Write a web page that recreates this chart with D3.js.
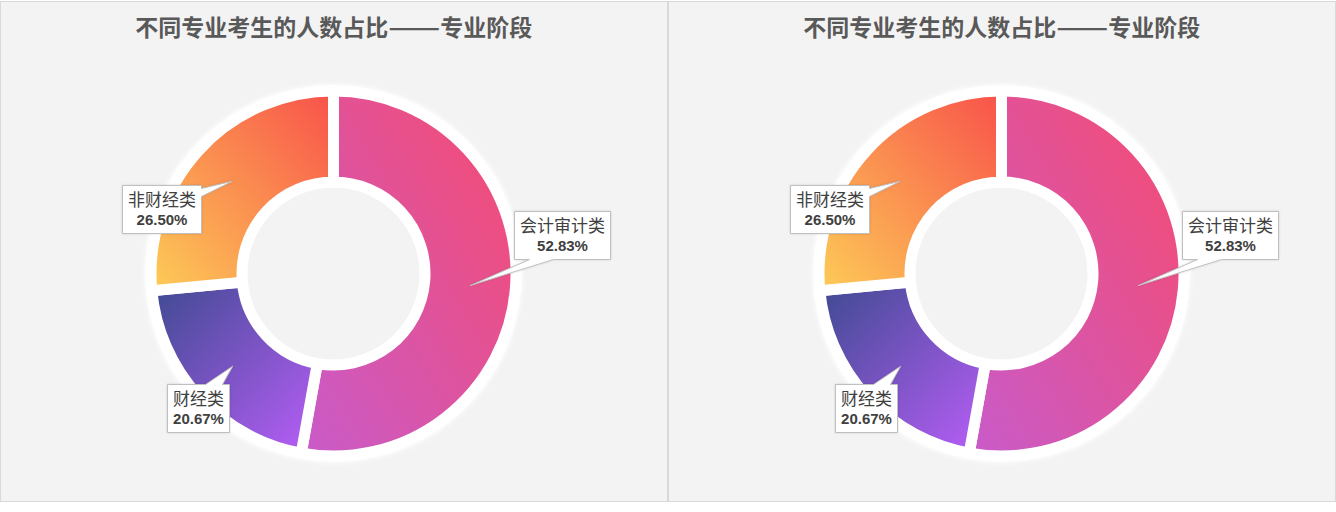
<!DOCTYPE html>
<html><head><meta charset="utf-8">
<script src="https://cdn.jsdelivr.net/npm/d3@7"></script>
<style>body{margin:0;background:#fff;} svg{display:block}</style>
</head><body><svg id="c" width="1336" height="512"></svg>
<script>
// ---- data ----
const titleParts = ["不同专业考生的人数占比", "——", "专业阶段"];
const categories = ["会计审计类", "财经类", "非财经类"];
const values = [52.83, 20.67, 26.50];
const panelIndex = [0, 1];

// ---- styles / layout ----
const gradFrom = ["#f74b6e", "#3d4a90", "#fdcc57"];
const gradTo   = ["#c85bca", "#b95ef8", "#f8514a"];
const gradDir  = [[1,0,0,1],[0,0,1,1],[0,1,1,0]]; // x1,y1,x2,y2
const labelOffset = [[92,-51],[-35,42],[-71,28]];   // box centre relative to slice centroid
const wedgeSpec = [["bottom",15,39],["top",38,55],["right",3,11]];

const panelW = 667.5, cy = 273.5;
const rOuter = 182.5, rInner = 91.5;

const svg = d3.select("#c");
const defs = svg.append("defs");
const blur = defs.append("filter").attr("id","glow").attr("x","-20%").attr("y","-20%").attr("width","140%").attr("height","140%");
blur.append("feGaussianBlur").attr("stdDeviation",2);
const sh = defs.append("filter").attr("id","shadow").attr("x","-20%").attr("y","-20%").attr("width","140%").attr("height","140%");
sh.append("feDropShadow").attr("dx",0).attr("dy",0).attr("stdDeviation",1).attr("flood-color","#000").attr("flood-opacity",0.15);

categories.forEach((c,i)=>{
  const g = defs.append("linearGradient").attr("id","g"+i)
    .attr("x1",gradDir[i][0]).attr("y1",gradDir[i][1]).attr("x2",gradDir[i][2]).attr("y2",gradDir[i][3]);
  g.append("stop").attr("offset","0%").attr("stop-color",gradFrom[i]);
  g.append("stop").attr("offset","100%").attr("stop-color",gradTo[i]);
});

const pie = d3.pie().sort(null).value(d=>d.v);
const data = pie(categories.map((c,i)=>({c, v: values[i], i})));
const arc = d3.arc().innerRadius(rInner).outerRadius(rOuter);

const cjk = "'Noto Sans CJK SC','Microsoft YaHei',sans-serif";
const latin = "'Liberation Sans',Arial,sans-serif";

panelIndex.forEach(p=>{
  const x0 = p * 668;
  const P = svg.append("g").attr("transform",`translate(${x0},0)`);
  P.append("rect").attr("x",0.5).attr("y",1.5).attr("width",panelW-0.5).attr("height",500)
    .attr("fill","#f3f3f3").attr("stroke","#d9d9d9").attr("stroke-width",1);
  const T = P.append("text").attr("x",panelW/2).attr("y",36).attr("text-anchor","middle")
    .attr("font-family",cjk).attr("font-weight","bold").attr("font-size",23)
    .attr("fill","#595959");
  titleParts.forEach((s,k)=>{
    const ts = T.append("tspan").text(s);
    if (k===1) ts.attr("textLength",52).attr("lengthAdjust","spacingAndGlyphs");
  });

  const cx = 333.5;
  const D = P.append("g").attr("transform",`translate(${cx},${cy})`);
  D.append("circle").attr("r",rOuter+2).attr("fill","none").attr("stroke","#ffffff")
    .attr("stroke-width",9).attr("filter","url(#glow)");
  D.selectAll("path.s").data(data).join("path").attr("class","s")
    .attr("d",arc).attr("fill",d=>`url(#g${d.data.i})`)
    .attr("stroke","#ffffff").attr("stroke-width",11).attr("stroke-linejoin","miter");

  // callouts
  data.forEach(d=>{
    const i = d.data.i;
    const [tx,ty] = arc.centroid(d);
    const tipX = cx + tx, tipY = cy + ty;
    const L = P.append("g");
    const t1 = L.append("text").attr("font-family",cjk).attr("font-size",17)
      .attr("fill","#404040").attr("text-anchor","middle").text(d.data.c);
    const t2 = L.append("text").attr("font-family",latin).attr("font-size",15).attr("font-weight","bold")
      .attr("fill","#404040").attr("text-anchor","middle").text(d3.format(".2f")(d.data.v)+"%");
    const tw = Math.max(t1.node().getComputedTextLength(), t2.node().getComputedTextLength());
    const bw = Math.round(tw + 11), bh = 48;
    const bcx = tipX + labelOffset[i][0], bcy = tipY + labelOffset[i][1];
    const l = Math.round(bcx - bw/2)+0.5, t = Math.round(bcy - bh/2)+0.5, r = l + bw, b = t + bh;
    const [side,a1,a2] = wedgeSpec[i];
    let pts;
    if (side==="bottom") pts = [[l,t],[r,t],[r,b],[l+a2,b],[tipX,tipY],[l+a1,b],[l,b]];
    else if (side==="top") pts = [[l,t],[l+a1,t],[tipX,tipY],[l+a2,t],[r,t],[r,b],[l,b]];
    else pts = [[l,t],[r,t],[r,t+a1],[tipX,tipY],[r,t+a2],[r,b],[l,b]];
    L.insert("path","text").attr("d",d3.line()(pts)+"Z").attr("fill","#ffffff")
      .attr("stroke","#bfbfbf").attr("stroke-width",1).attr("filter","url(#shadow)");
    t1.attr("x",(l+r)/2).attr("y",t+20);
    t2.attr("x",(l+r)/2).attr("y",t+39.5);
  });
});
</script></body></html>
